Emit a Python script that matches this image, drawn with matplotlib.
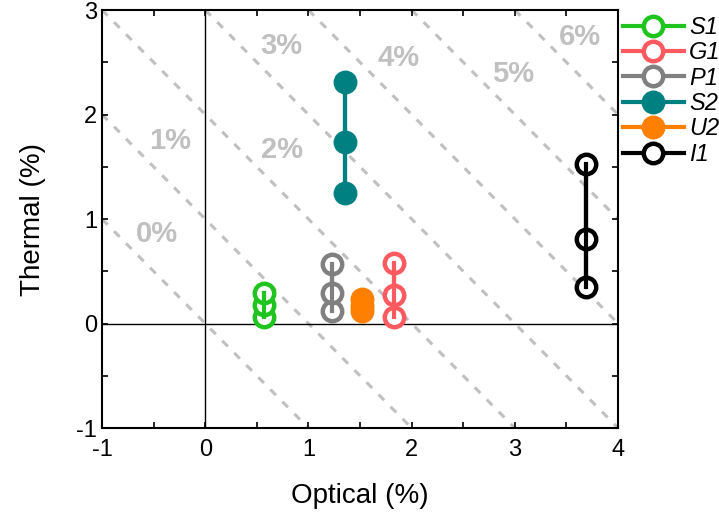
import matplotlib
matplotlib.use("Agg")
import matplotlib.pyplot as plt
from matplotlib.ticker import MultipleLocator

plt.rcParams['font.family'] = ['Liberation Sans', 'DejaVu Sans']
plt.rcParams['axes.unicode_minus'] = False

# Samples: optical (x) and thermal (y) contributions, in percent
names = ["S1", "G1", "P1", "S2", "U2", "I1"]
colors = ["#1fc41f", "#ff5a5f", "#808080", "#008080", "#ff8000", "#000000"]
filled = [False, False, False, True, True, False]
optical = [0.57, 1.83, 1.23, 1.355, 1.52, 3.69]
thermal = [
    [0.06, 0.18, 0.29],
    [0.06, 0.27, 0.58],
    [0.12, 0.29, 0.57],
    [1.25, 1.74, 2.31],
    [0.12, 0.17, 0.23],
    [0.35, 0.81, 1.53],
]

# Iso-total guide lines (optical + thermal = constant) and their labels
iso_levels = [0, 1, 2, 3, 4, 5, 6]
iso_labels = ["0%", "1%", "2%", "3%", "4%", "5%", "6%"]
iso_label_xy = [(-0.47, 0.86), (-0.34, 1.75), (0.74, 1.66), (0.74, 2.66),
                (1.87, 2.54), (2.98, 2.39), (3.63, 2.74)]

fig = plt.figure(figsize=(7.19, 5.16), dpi=100)
ax = fig.add_axes([0.1419, 0.1705, 0.7177, 0.8101])

xmin, xmax, ymin, ymax = -1, 4, -1, 3
for k in iso_levels:
    x0 = max(xmin, k - ymax)
    x1 = min(xmax, k - ymin)
    ax.plot([x0, x1], [k - x0, k - x1], color="#c0c0c0", lw=2.2,
            ls=(0, (2.6, 3.0)), zorder=1)
for lab, (tx, ty) in zip(iso_labels, iso_label_xy):
    ax.text(tx, ty, lab, color="#c0c0c0", fontsize=21, fontweight="bold",
            ha="center", va="center", zorder=1)

ax.axhline(0, color="black", lw=1.0, zorder=1.5)
ax.axvline(0, color="black", lw=1.0, zorder=1.5)

for name, c, f, xv, ys in zip(names, colors, filled, optical, thermal):
    xs = [xv] * len(ys)
    ax.plot(xs, ys, ls="-", lw=3, color=c, marker="o", ms=14,
            mew=3.2, mec=c, mfc=c if f else "white", label=name, zorder=3)
    ax.plot(xs, ys, ls="-", lw=3, color=c, zorder=4)

ax.set_xlim(xmin, xmax)
ax.set_ylim(ymin, ymax)
ax.xaxis.set_major_locator(MultipleLocator(1))
ax.yaxis.set_major_locator(MultipleLocator(1))
ax.xaxis.set_minor_locator(MultipleLocator(0.5))
ax.yaxis.set_minor_locator(MultipleLocator(0.5))
ax.tick_params(which="both", direction="in", top=True, right=True,
               length=4, width=1.2, labelsize=17)
ax.tick_params(axis="x", pad=8)
for s in ax.spines.values():
    s.set_linewidth(1.5)

ax.set_xlabel("Optical (%)", fontsize=20, labelpad=16)
ax.set_ylabel("Thermal (%)", fontsize=20, labelpad=22)

leg = ax.legend(loc="upper left", bbox_to_anchor=(1.0, 0.997), frameon=False,
                prop={"size": 17, "style": "italic"}, handlelength=2.6,
                handletextpad=0.2, labelspacing=0.1, borderaxespad=0.0,
                borderpad=0.2)

fig.savefig("out.png", dpi=100)
